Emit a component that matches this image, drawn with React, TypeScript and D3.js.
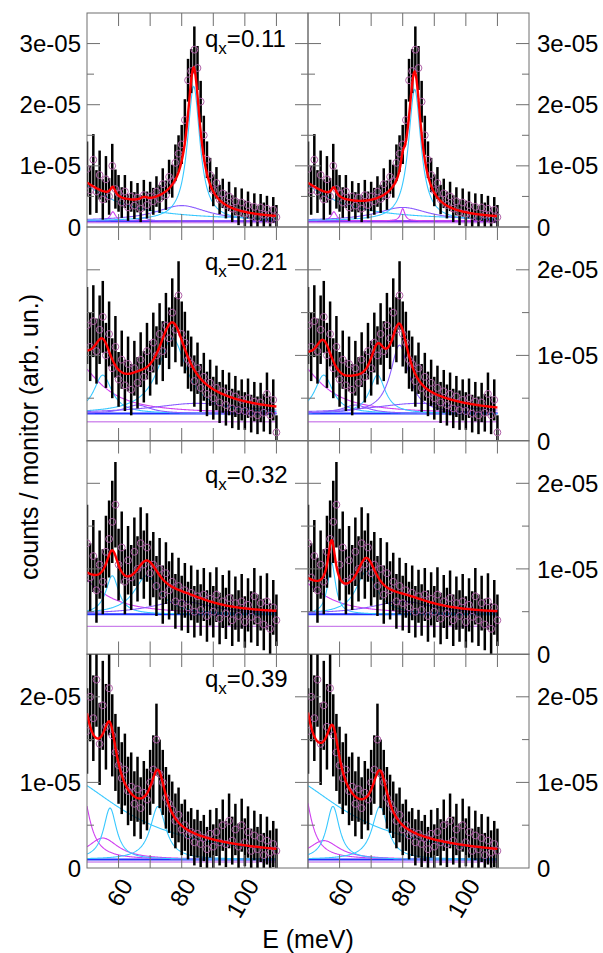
import React from "react";
import * as d3 from "d3";

// Energy transfer grid (meV) of the scans
const energies = d3.range(50, 111, 1);

// counts / monitor in units of 1e-5, one scan per momentum transfer
const countsQ011 = [
  0.95, 0.6, 1.1, 0.58, 0.85, 0.45, 0.78, 0.5, 1.0, 0.62,
  0.55, 0.4, 0.58, 0.32, 0.5, 0.35, 0.48, 0.3, 0.52, 0.36,
  0.5, 0.42, 0.58, 0.46, 0.7, 0.52, 0.82, 0.75, 1.05, 1.2,
  1.35, 1.75, 2.4, 2.55, 2.9, 2.6, 2.05, 1.5, 1.1, 0.85,
  0.6, 0.72, 0.45, 0.55, 0.36, 0.5, 0.3, 0.42, 0.24, 0.4,
  0.22, 0.36, 0.18, 0.33, 0.15, 0.32, 0.2, 0.3, 0.12, 0.28,
  0.16,
];
const errorsQ011 = [
  0.45, 0.4, 0.42, 0.35, 0.4, 0.33, 0.38, 0.3, 0.36, 0.32,
  0.3, 0.25, 0.27, 0.22, 0.25, 0.22, 0.24, 0.22, 0.25, 0.22,
  0.24, 0.22, 0.25, 0.23, 0.26, 0.24, 0.28, 0.27, 0.3, 0.3,
  0.32, 0.34, 0.35, 0.36, 0.38, 0.36, 0.34, 0.32, 0.3, 0.28,
  0.26, 0.26, 0.24, 0.24, 0.22, 0.24, 0.22, 0.23, 0.21, 0.23,
  0.21, 0.22, 0.2, 0.22, 0.2, 0.22, 0.2, 0.21, 0.2, 0.21,
  0.2,
];

const countsQ021 = [
  1.35, 1.1, 1.4, 1.05, 1.3, 1.45, 1.0, 1.25, 0.85, 1.1,
  0.72, 0.95, 0.65, 0.9, 0.6, 0.85, 0.68, 0.95, 0.75, 1.05,
  0.85, 1.15, 1.0, 1.25, 1.05, 1.35, 1.2, 1.5, 1.3, 1.7,
  1.25, 1.15, 0.95, 0.9, 0.7, 0.85, 0.62, 0.75, 0.55, 0.68,
  0.5, 0.62, 0.45, 0.58, 0.42, 0.55, 0.38, 0.52, 0.36, 0.48,
  0.35, 0.5, 0.32, 0.46, 0.3, 0.45, 0.33, 0.55, 0.3, 0.48,
  0.1,
];
const errorsQ021 = [
  0.45, 0.4, 0.42, 0.38, 0.4, 0.42, 0.38, 0.38, 0.35, 0.36,
  0.32, 0.34, 0.3, 0.32, 0.3, 0.32, 0.3, 0.32, 0.3, 0.33,
  0.32, 0.35, 0.34, 0.36, 0.35, 0.38, 0.36, 0.4, 0.38, 0.4,
  0.38, 0.36, 0.34, 0.32, 0.3, 0.3, 0.28, 0.28, 0.26, 0.27,
  0.25, 0.26, 0.24, 0.25, 0.24, 0.25, 0.23, 0.24, 0.23, 0.24,
  0.22, 0.23, 0.22, 0.23, 0.22, 0.23, 0.22, 0.25, 0.22, 0.24,
  0.2,
];

const countsQ032 = [
  1.3, 0.9, 1.15, 0.75, 1.05, 0.85, 1.2, 1.35, 1.55, 1.75,
  1.05, 1.25, 0.85, 1.1, 0.9, 1.2, 1.0, 1.3, 1.05, 1.25,
  0.95, 1.05, 0.8, 1.0, 0.7, 0.95, 0.75, 0.85, 0.62, 0.8,
  0.6, 0.75, 0.55, 0.72, 0.5, 0.68, 0.52, 0.7, 0.45, 0.65,
  0.5, 0.7, 0.42, 0.62, 0.48, 0.66, 0.4, 0.6, 0.45, 0.62,
  0.38, 0.58, 0.44, 0.68, 0.4, 0.6, 0.35, 0.62, 0.3, 0.55,
  0.4,
];
const errorsQ032 = [
  0.45, 0.4, 0.42, 0.38, 0.4, 0.38, 0.42, 0.45, 0.48, 0.5,
  0.42, 0.42, 0.38, 0.4, 0.38, 0.4, 0.38, 0.42, 0.4, 0.4,
  0.38, 0.38, 0.35, 0.36, 0.34, 0.36, 0.34, 0.34, 0.32, 0.33,
  0.32, 0.32, 0.3, 0.32, 0.3, 0.31, 0.3, 0.31, 0.3, 0.31,
  0.3, 0.32, 0.3, 0.31, 0.3, 0.32, 0.3, 0.31, 0.3, 0.32,
  0.3, 0.31, 0.3, 0.33, 0.3, 0.32, 0.3, 0.33, 0.3, 0.32,
  0.3,
];

const countsQ039 = [
  1.6, 2.0, 1.75, 2.2, 1.45, 1.9, 1.65, 2.1, 1.55, 1.35,
  1.2, 1.05, 1.15, 0.9, 0.95, 0.75, 0.92, 0.7, 0.88, 0.8,
  1.0, 1.15, 1.5, 1.1, 1.0, 0.82, 0.75, 0.68, 0.55, 0.62,
  0.45, 0.5, 0.38, 0.42, 0.3, 0.4, 0.28, 0.35, 0.22, 0.4,
  0.25, 0.42, 0.3, 0.5, 0.28, 0.55, 0.32, 0.45, 0.25, 0.5,
  0.3, 0.42, 0.2, 0.38, 0.22, 0.35, 0.15, 0.32, 0.18, 0.28,
  0.2,
];
const errorsQ039 = [
  0.5, 0.52, 0.5, 0.55, 0.48, 0.52, 0.5, 0.55, 0.48, 0.45,
  0.45, 0.42, 0.42, 0.4, 0.4, 0.38, 0.38, 0.36, 0.37, 0.36,
  0.38, 0.4, 0.42, 0.4, 0.38, 0.36, 0.34, 0.33, 0.32, 0.32,
  0.3, 0.3, 0.28, 0.28, 0.27, 0.28, 0.27, 0.27, 0.26, 0.28,
  0.26, 0.28, 0.27, 0.3, 0.27, 0.32, 0.28, 0.3, 0.27, 0.31,
  0.28, 0.3, 0.26, 0.29, 0.26, 0.28, 0.26, 0.28, 0.26, 0.27,
  0.26,
];

// Fit results: flat background and Lorentzian components [centre meV, HWHM meV, amplitude 1e-5]
const backgroundQ011 = [0.1, 0.1];
const fitQ011A = [[40, 15, 0.85], [58.2, 1.0, 0.15], [68, 1.5, 0.05], [80, 10, 0.25], [83.8, 2.4, 2.2]];
const fitQ011B = [[40, 15, 0.85], [58.2, 1.0, 0.15], [80, 0.8, 0.2], [80, 10, 0.22], [83.8, 2.4, 2.15]];

const backgroundQ021 = [0.32, 0.32];
const fitQ021A = [[45, 10, 0.65], [55, 3.5, 0.45], [66, 5, 0.1], [77, 5.5, 0.88], [85, 18, 0.12]];
const fitQ021B = [[45, 10, 0.65], [55, 3.5, 0.45], [65, 5, 0.1], [72, 3, 0.45], [79, 3.5, 0.8], [85, 18, 0.12]];

const backgroundQ032 = [0.47, 0.47];
const fitQ032A = [[45, 10, 0.5], [58, 2.5, 0.45], [69, 5, 0.45], [80, 12, 0.15]];
const fitQ032B = [[45, 10, 0.45], [57.5, 1.5, 0.6], [68.5, 4, 0.5], [80, 12, 0.15]];

const backgroundQ039 = [0.1, 0.1];
const fitQ039A = [[40, 25, 1.0], [48, 3, 0.9], [55, 6, 0.25], [57.3, 2.5, 0.6], [72.5, 3, 0.62]];
const fitQ039B = [[40, 25, 1.0], [48, 3, 0.95], [55, 6, 0.22], [57.9, 2.5, 0.62], [72.8, 3, 0.62]];

// Line colour of each fit component
const compColorsQ011A = ["#38c8ff", "#d040f0", "#8a5cff", "#8a5cff", "#38c8ff"];
const compColorsQ011B = ["#38c8ff", "#d040f0", "#d040f0", "#8a5cff", "#38c8ff"];
const compColorsQ021A = ["#d040f0", "#38c8ff", "#8a5cff", "#38c8ff", "#8a5cff"];
const compColorsQ021B = ["#d040f0", "#38c8ff", "#8a5cff", "#38c8ff", "#8a5cff", "#8a5cff"];
const compColorsQ032A = ["#d040f0", "#38c8ff", "#38c8ff", "#8a5cff"];
const compColorsQ032B = ["#d040f0", "#38c8ff", "#38c8ff", "#8a5cff"];
const compColorsQ039A = ["#38c8ff", "#d040f0", "#d040f0", "#38c8ff", "#38c8ff"];
const compColorsQ039B = ["#38c8ff", "#d040f0", "#d040f0", "#38c8ff", "#38c8ff"];

const qValues = ["0.11", "0.21", "0.32", "0.39"];
const yMaxima = [3.5, 2.5, 2.5, 2.5];
const yMajorQ011 = [0, 1, 2, 3];
const yMajorOther = [0, 1, 2];
const yMinorQ011 = [0.5, 1.5, 2.5];
const yMinorOther = [0.5, 1.5];
const yTickText = ["0", "1e-05", "2e-05", "3e-05"];
const xTicks = [60, 70, 80, 90, 100, 110];
const xTickLabels = [60, 80, 100];

const rows = [
  { counts: countsQ011, errors: errorsQ011, bg: backgroundQ011, fits: [fitQ011A, fitQ011B], colors: [compColorsQ011A, compColorsQ011B], major: yMajorQ011, minor: yMinorQ011 },
  { counts: countsQ021, errors: errorsQ021, bg: backgroundQ021, fits: [fitQ021A, fitQ021B], colors: [compColorsQ021A, compColorsQ021B], major: yMajorOther, minor: yMinorOther },
  { counts: countsQ032, errors: errorsQ032, bg: backgroundQ032, fits: [fitQ032A, fitQ032B], colors: [compColorsQ032A, compColorsQ032B], major: yMajorOther, minor: yMinorOther },
  { counts: countsQ039, errors: errorsQ039, bg: backgroundQ039, fits: [fitQ039A, fitQ039B], colors: [compColorsQ039A, compColorsQ039B], major: yMajorOther, minor: yMinorOther },
];

const W = 603;
const H = 953;
const colLeft = [87, 308];
const colWidth = 221;
const rowTop = [13, 227, 440.5, 654];
const rowHeight = 214;
const qLabelOffset = [34, 43, 42, 33];
const frameColor = "#6e6e6e";
const FONT = "'Liberation Sans', Arial, Helvetica, sans-serif";

const lorentz = (e: number, c: number[]) => (c[2] * c[1] * c[1]) / ((e - c[0]) ** 2 + c[1] * c[1]);
const curveGrid = d3.range(50, 110.001, 0.2);

function Panel({ r, s }: { r: number; s: number }) {
  const row = rows[r];
  const x0 = colLeft[s];
  const top = rowTop[r];
  const bottom = top + rowHeight;
  const x = d3.scaleLinear().domain([50, 120]).range([x0, x0 + colWidth]);
  const y = d3.scaleLinear().domain([0, yMaxima[r]]).range([bottom, top]);
  const comps = row.fits[s];
  const bg = row.bg[s];
  const line = d3
    .line<[number, number]>()
    .x((d) => x(d[0]))
    .y((d) => y(d[1]))
    .curve(d3.curveLinear);
  const total = curveGrid.map((e) => [e, bg + d3.sum(comps, (c) => lorentz(e, c))] as [number, number]);
  const clipId = `clip-${r}-${s}`;
  return (
    <g>
      <defs>
        <clipPath id={clipId}>
          <rect x={x0} y={top} width={colWidth} height={rowHeight} />
        </clipPath>
      </defs>
      <g clipPath={`url(#${clipId})`}>
        {/* background level */}
        <path d={line(curveGrid.map((e) => [e, bg]))!} fill="none" stroke="#2030ff" strokeWidth={2} />
        <path d={line(curveGrid.map((e) => [e, bg * 0.7]))!} fill="none" stroke="#b040e0" strokeWidth={1} />
        {/* individual fit components */}
        {comps.map((c, i) => (
          <path
            key={i}
            d={line(curveGrid.map((e) => [e, bg + lorentz(e, c)]))!}
            fill="none"
            stroke={row.colors[s][i]}
            strokeWidth={1.1}
          />
        ))}
        {/* error bars */}
        {energies.map((e, i) => (
          <line
            key={"e" + i}
            x1={x(e)}
            x2={x(e)}
            y1={y(row.counts[i] - row.errors[i])}
            y2={y(row.counts[i] + row.errors[i])}
            stroke="#000"
            strokeWidth={2.5}
          />
        ))}
        {/* data points */}
        {energies.map((e, i) => (
          <circle key={"p" + i} cx={x(e)} cy={y(row.counts[i])} r={3.4} fill="none" stroke="#b062a8" strokeWidth={1} />
        ))}
        {/* total fit */}
        <path d={line(total)!} fill="none" stroke="#ff0000" strokeWidth={2.4} />
      </g>
      {/* frame */}
      <rect x={x0} y={top} width={colWidth} height={rowHeight} fill="none" stroke={frameColor} strokeWidth={1} />
      {/* x ticks, top and bottom, pointing inward */}
      {xTicks.map((t) => (
        <g key={"xt" + t}>
          <line x1={x(t)} x2={x(t)} y1={top} y2={top + 13} stroke={frameColor} />
          <line x1={x(t)} x2={x(t)} y1={bottom} y2={bottom - 13} stroke={frameColor} />
        </g>
      ))}
      {/* y ticks on both sides */}
      {row.major
        .filter((t) => t > 0)
        .map((t) => (
          <g key={"ym" + t}>
            <line x1={x0} x2={x0 + 13} y1={y(t)} y2={y(t)} stroke={frameColor} />
            <line x1={x0 + colWidth} x2={x0 + colWidth - 13} y1={y(t)} y2={y(t)} stroke={frameColor} />
          </g>
        ))}
      {row.minor.map((t) => (
        <g key={"yn" + t}>
          <line x1={x0} x2={x0 + 7} y1={y(t)} y2={y(t)} stroke={frameColor} />
          <line x1={x0 + colWidth} x2={x0 + colWidth - 7} y1={y(t)} y2={y(t)} stroke={frameColor} />
        </g>
      ))}
      {/* y tick labels: left column only on first and last row, right column on all */}
      {(s === 1 || r === 0 || r === 3) &&
        row.major.map((t) => (
          <text
            key={"yl" + t}
            x={s === 0 ? x0 - 6 : x0 + colWidth + 8}
            y={y(t)}
            dy="0.36em"
            textAnchor={s === 0 ? "end" : "start"}
            fontSize={24}
            fontFamily={FONT}
            fill="#000"
          >
            {yTickText[t]}
          </text>
        ))}
      {/* momentum label */}
      {s === 0 && (
        <text x={205} y={top + qLabelOffset[r]} fontSize={24} fontFamily={FONT} fill="#000">
          q
          <tspan fontSize={17} dy={7}>
            x
          </tspan>
          <tspan dy={-7}>={qValues[r]}</tspan>
        </text>
      )}
      {/* x tick labels under the bottom row */}
      {r === 3 &&
        xTickLabels.map((t) => (
          <text
            key={"xl" + t}
            transform={`translate(${x(t) + 15},${bottom + 17}) rotate(-60)`}
            textAnchor="end"
            fontSize={24}
            fontFamily={FONT}
            fill="#000"
          >
            {t}
          </text>
        ))}
    </g>
  );
}

export default function App() {
  return (
    <svg width={W} height={H} style={{ display: "block", position: "absolute", left: 0, top: 0, background: "#fff" }}>
      <rect width={W} height={H} fill="#fff" />
      {rows.map((_, r) => [0, 1].map((s) => <Panel key={`${r}-${s}`} r={r} s={s} />))}
      <text
        transform={`translate(38,437) rotate(-90)`}
        textAnchor="middle"
        fontSize={25}
        fontFamily={FONT}
        fill="#000"
      >
        counts / monitor (arb. un.)
      </text>
      <text x={308} y={948} textAnchor="middle" fontSize={25} fontFamily={FONT} fill="#000">
        E (meV)
      </text>
    </svg>
  );
}
